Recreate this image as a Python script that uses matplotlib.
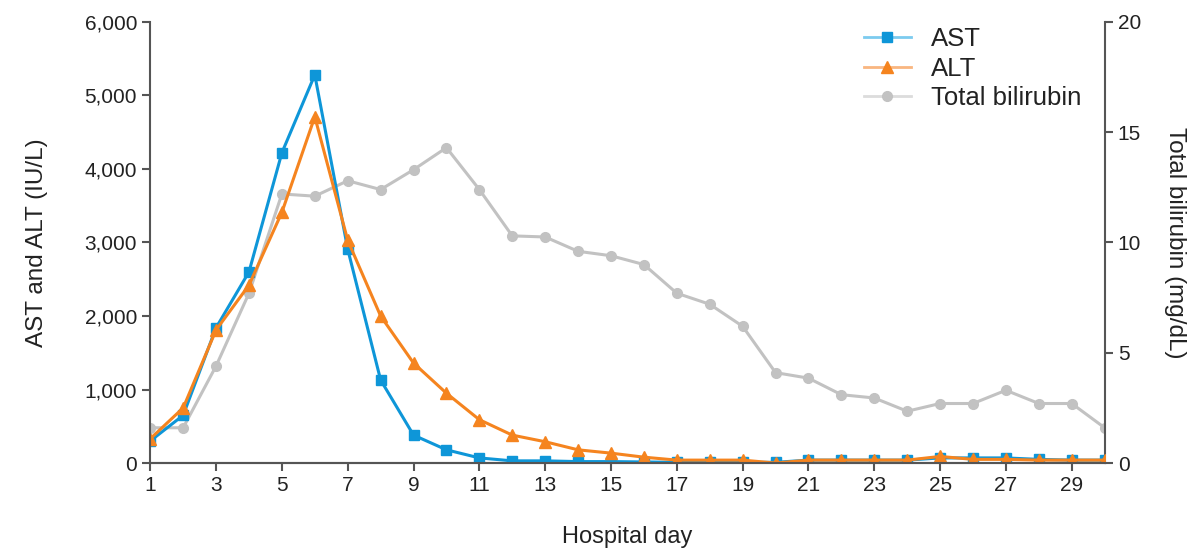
import matplotlib
matplotlib.use("Agg")
import matplotlib.pyplot as plt
from matplotlib.ticker import FuncFormatter
from matplotlib.lines import Line2D

plt.rcParams['font.family'] = ['Liberation Sans', 'DejaVu Sans']

days = list(range(1, 31))
ast = [300, 650, 1840, 2600, 4220, 5280, 2910, 1130, 380, 180, 70, 30, 30, 20, 20, 15,
       10, 10, 10, 10, 40, 40, 40, 40, 70, 70, 70, 50, 40, 40]
alt = [330, 750, 1810, 2420, 3410, 4710, 3030, 2000, 1360, 950, 590, 380, 290, 180, 135, 80,
       40, 40, 40, 0, 40, 40, 40, 40, 90, 50, 50, 40, 40, 40]
bili = [1.6, 1.6, 4.4, 7.7, 12.2, 12.1, 12.8, 12.4, 13.3, 14.3, 12.4, 10.3, 10.25, 9.6, 9.4, 9.0,
        7.7, 7.2, 6.2, 4.1, 3.85, 3.1, 2.95, 2.35, 2.7, 2.7, 3.3, 2.7, 2.7, 1.6]

C_AST = '#0E96D8'
C_ALT = '#F5841F'
C_BIL = '#C2C2C2'
AX_C = '#555555'
TXT = '#222222'

fig = plt.figure(figsize=(12.02, 5.48), dpi=100)
ax = fig.add_axes([0.125, 0.155, 0.794, 0.805])
ax2 = ax.twinx()

l3, = ax2.plot(days, bili, color=C_BIL, marker='o', markersize=7, lw=2.2, label='Total bilirubin')
l1, = ax.plot(days, ast, color=C_AST, marker='s', markersize=7, lw=2.2, label='AST')
l2, = ax.plot(days, alt, color=C_ALT, marker='^', markersize=8, lw=2.2, label='ALT')
ax.set_zorder(ax2.get_zorder() + 1)
ax.patch.set_visible(False)

ax.set_xlim(1, 30)
ax.set_ylim(0, 6000)
ax2.set_ylim(0, 20)
ax.set_xticks(list(range(1, 31, 2)))
ax.set_yticks([0, 1000, 2000, 3000, 4000, 5000, 6000])
ax.yaxis.set_major_formatter(FuncFormatter(lambda v, p: f"{int(v):,}"))
ax2.set_yticks([0, 5, 10, 15, 20])

for a in (ax, ax2):
    a.spines['top'].set_visible(False)
    for s in a.spines.values():
        s.set_color(AX_C)
        s.set_linewidth(1.5)
    a.tick_params(colors=AX_C, labelcolor=TXT, labelsize=15, width=1.5, length=6, direction='out')
ax2.spines['left'].set_visible(False)
ax.spines['right'].set_visible(False)

ax.set_xlabel('Hospital day', fontsize=17, color=TXT, labelpad=22)
ax.set_ylabel('AST and ALT (IU/L)', fontsize=17.5, color=TXT, labelpad=26)
ax2.set_ylabel('Total bilirubin (mg/dL)', fontsize=17.5, color=TXT, rotation=270, labelpad=32)

h1 = Line2D([], [], color='#7CCBEF', lw=2, marker='s', markersize=7,
            markerfacecolor=C_AST, markeredgecolor=C_AST)
h2 = Line2D([], [], color='#F9B680', lw=2, marker='^', markersize=8,
            markerfacecolor=C_ALT, markeredgecolor=C_ALT)
h3 = Line2D([], [], color='#DCDCDC', lw=2, marker='o', markersize=7,
            markerfacecolor=C_BIL, markeredgecolor=C_BIL)
leg = ax.legend(handles=[h1, h2, h3], labels=['AST', 'ALT', 'Total bilirubin'],
                loc='upper right', bbox_to_anchor=(1.0, 1.04),
                frameon=False, fontsize=18.5, handlelength=1.8, labelspacing=0.2,
                handletextpad=0.8)
for t in leg.get_texts():
    t.set_color(TXT)

fig.savefig('out.png', dpi=100)
